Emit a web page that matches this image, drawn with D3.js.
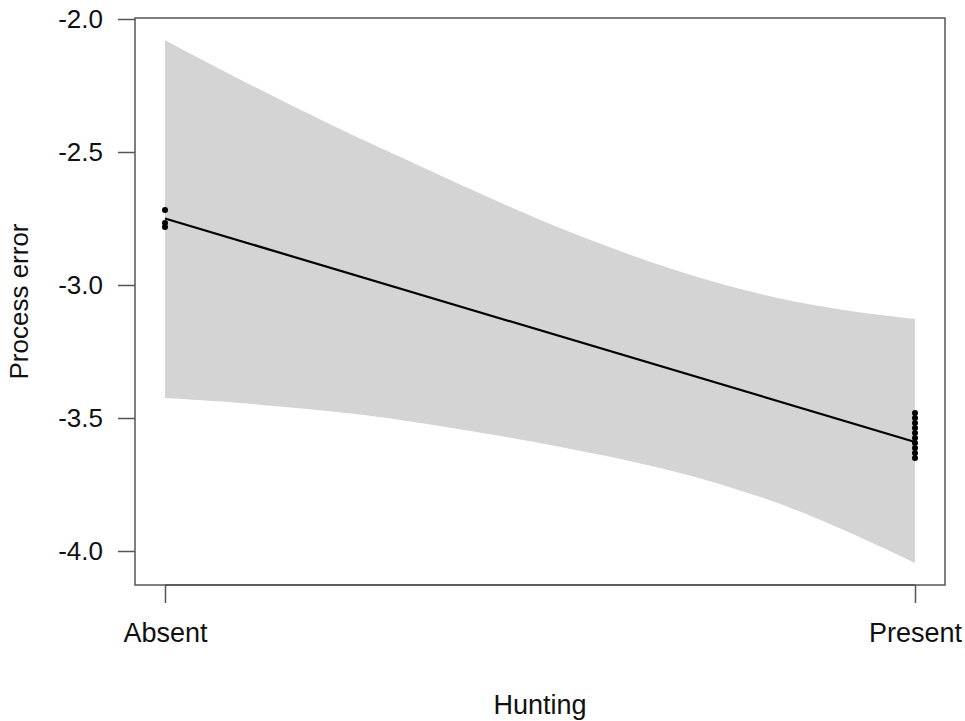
<!DOCTYPE html>
<html>
<head>
<meta charset="utf-8">
<script src="https://cdn.jsdelivr.net/npm/d3@7"></script>
<style>
body { margin: 0; background: #fff; }
text { font-family: "Liberation Sans", Arial, sans-serif; fill: #111; }
</style>
</head>
<body>
<script>
var width = 965, height = 721;

// categories on the x axis (0 = Absent, 1 = Present)
var xCategories = ["Absent", "Present"];
var xPositions = [0, 1];
var yTicks = [-2.0, -2.5, -3.0, -3.5, -4.0];

// confidence band
var bandT = [0, 0.106, 0.232, 0.316, 0.455, 0.595, 0.735, 0.874, 1];
var bandUpper = [-2.08, -2.236, -2.412, -2.522, -2.70, -2.86, -2.991, -3.08, -3.128];
var bandLower = [-3.425, -3.445, -3.478, -3.508, -3.571, -3.647, -3.744, -3.883, -4.045];

// fitted line
var fitT = [0, 1];
var fitY = [-2.75, -3.59];

// observations
var absentValues = [-2.718, -2.767, -2.782];
var presentValues = [-3.481, -3.50, -3.519, -3.538, -3.556, -3.575, -3.594, -3.613, -3.632, -3.65];

var svg = d3.select("body")
    .append("svg")
    .attr("width", width)
    .attr("height", height);

var xscale = d3.scaleLinear()
    .domain([0, 1])
    .range([165, 915]);

var yscale = d3.scaleLinear()
    .domain([-4, -2])
    .range([551, 19]);

var x0 = xscale(-0.04), x1 = xscale(1.04);
var y0 = 585, y1 = 18;

// band
var band = bandT.map(function (t, i) { return { t: t, hi: bandUpper[i], lo: bandLower[i] }; });
var area = d3.area()
    .x(function (d) { return xscale(d.t); })
    .y0(function (d) { return yscale(d.lo); })
    .y1(function (d) { return yscale(d.hi); })
    .curve(d3.curveNatural);

svg.append("path")
    .datum(band)
    .attr("d", area)
    .attr("fill", "#d4d4d4");

// fit line
var line = d3.line()
    .x(function (d) { return xscale(d[0]); })
    .y(function (d) { return yscale(d[1]); });

svg.append("path")
    .datum(fitT.map(function (t, i) { return [t, fitY[i]]; }))
    .attr("d", line)
    .attr("fill", "none")
    .attr("stroke", "#000")
    .attr("stroke-width", 2.2);

// points
var pts = absentValues.map(function (v) { return [0, v]; })
    .concat(presentValues.map(function (v) { return [1, v]; }));

svg.selectAll("circle.pt")
    .data(pts)
    .enter().append("circle")
    .attr("class", "pt")
    .attr("cx", function (d) { return xscale(d[0]); })
    .attr("cy", function (d) { return yscale(d[1]); })
    .attr("r", 3)
    .attr("fill", "#000");

// box
svg.append("rect")
    .attr("x", x0)
    .attr("y", y1)
    .attr("width", x1 - x0)
    .attr("height", y0 - y1)
    .attr("fill", "none")
    .attr("stroke", "#555")
    .attr("stroke-width", 1.5);

// y axis
var yAxis = d3.axisLeft(yscale)
    .tickValues(yTicks)
    .tickSize(17)
    .tickPadding(15)
    .tickFormat(d3.format(".1f"));

var gy = svg.append("g")
    .attr("transform", "translate(" + x0 + ",0)")
    .call(yAxis);
gy.select(".domain").remove();
gy.selectAll(".tick line").attr("stroke", "#555").attr("stroke-width", 1.5);
gy.selectAll(".tick text")
    .style("font-family", "Liberation Sans, Arial, sans-serif")
    .style("font-size", "26px")
    .attr("fill", "#111")
    .text(function (d) { return d3.format(".1f")(d).replace("−", "-"); });

// x axis
var xAxis = d3.axisBottom(xscale)
    .tickValues(xPositions)
    .tickSize(18)
    .tickPadding(20)
    .tickFormat(function (d, i) { return xCategories[i]; });

var gx = svg.append("g")
    .attr("transform", "translate(0," + y0 + ")")
    .call(xAxis);
gx.select(".domain").attr("stroke", "#555").attr("stroke-width", 1.5)
    .attr("d", "M" + xscale(0) + ",0H" + xscale(1));
gx.selectAll(".tick line").attr("stroke", "#555").attr("stroke-width", 1.5);
gx.selectAll(".tick text")
    .style("font-family", "Liberation Sans, Arial, sans-serif")
    .style("font-size", "27px")
    .attr("fill", "#111");

// axis titles
svg.append("text")
    .attr("x", (x0 + x1) / 2)
    .attr("y", 714)
    .attr("text-anchor", "middle")
    .style("font-size", "27px")
    .text("Hunting");

svg.append("text")
    .attr("transform", "translate(28," + (y0 + y1) / 2 + ") rotate(-90)")
    .attr("text-anchor", "middle")
    .style("font-size", "26px")
    .text("Process error");
</script>
</body>
</html>
